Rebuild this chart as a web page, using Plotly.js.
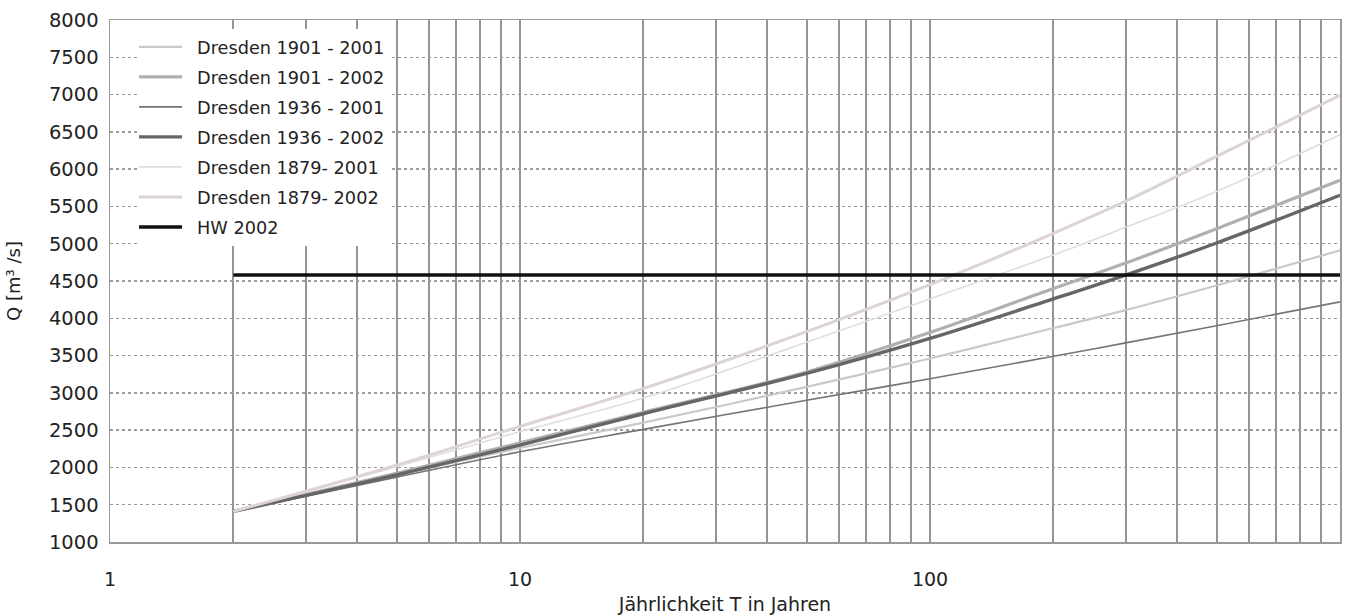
<!DOCTYPE html>
<html><head><meta charset="utf-8">
<script src="https://cdn.plot.ly/plotly-3.0.1.min.js"></script>
<style>html,body{margin:0;padding:0;background:#fff}</style>
</head><body><div id="chart" style="width:1364px;height:615px"></div>
<script>
// Return periods (years)
const returnPeriods = [2, 5, 10, 20, 50, 100, 200, 300, 500, 1000];
// Discharge Q [m3/s] per series
const q1901_2001 = [1410, 1900, 2260, 2600, 3080, 3460, 3870, 4110, 4440, 4910];
const q1901_2002 = [1410, 1920, 2330, 2740, 3280, 3810, 4400, 4740, 5200, 5850];
const q1936_2001 = [1410, 1870, 2210, 2510, 2900, 3190, 3490, 3670, 3900, 4220];
const q1936_2002 = [1410, 1900, 2300, 2720, 3260, 3730, 4260, 4580, 5010, 5650];
const q1879_2001 = [1410, 2010, 2480, 2930, 3680, 4260, 4850, 5220, 5700, 6460];
const q1879_2002 = [1410, 2030, 2550, 3060, 3820, 4450, 5140, 5570, 6170, 6990];
// Flood 2002 peak discharge
const hwPeriods = [2, 1000];
const hw2002 = [4580, 4580];
const seriesNames = ['Dresden 1901 - 2001', 'Dresden 1901 - 2002', 'Dresden 1936 - 2001',
  'Dresden 1936 - 2002', 'Dresden 1879- 2001', 'Dresden 1879- 2002', 'HW 2002'];
// Axis ticks
const xTickVals = [1,2,3,4,5,6,7,8,9,10,20,30,40,50,60,70,80,90,100,200,300,400,500,600,700,800,900,1000];
const xTickText = ['1','','','','','','','','','10','','','','','','','','','100','','','','','','','','','1000'];
const yTickVals = [1000,1500,2000,2500,3000,3500,4000,4500,5000,5500,6000,6500,7000,7500,8000];

const styles = [
  {color:'#c9c9c9', width:2.2},
  {color:'#b0b0b0', width:3.2},
  {color:'#747474', width:1.6},
  {color:'#666666', width:3.4},
  {color:'#dedede', width:1.6},
  {color:'#ddd3d3', width:3},
  {color:'#111111', width:3.6}
];
const seriesData = [q1901_2001, q1901_2002, q1936_2001, q1936_2002, q1879_2001, q1879_2002];

const traces = seriesData.map((ys, i) => ({
  type:'scatter', mode:'lines', x: returnPeriods, y: ys, name: seriesNames[i],
  legendgroup: 'g'+i,
  line:{color:styles[i].color, width:styles[i].width, shape:'spline', smoothing:1}
}));
traces.push({type:'scatter', mode:'lines', x: hwPeriods, y: hw2002, name: seriesNames[6],
  legendgroup:'g6', line:{color:styles[6].color, width:styles[6].width}});

const font = 'DejaVu Sans, sans-serif';
const layout = {
  width:1364, height:615,
  margin:{l:110, r:24, t:20, b:73},
  paper_bgcolor:'#fff', plot_bgcolor:'#fff',
  font:{family:font, color:'#222', size:18},
  showlegend:true,
  legend:{x:0.022, y:0.983, xanchor:'left', yanchor:'top', bgcolor:'#ffffff',
    borderwidth:0, font:{family:font, size:17.7, color:'#222'}, tracegroupgap:4,
    traceorder:'grouped', itemwidth:50},
  xaxis:{type:'log', range:[0,3], tickmode:'array', tickvals:xTickVals, ticktext:xTickText,
    showgrid:true, gridcolor:'#959595', gridwidth:2, zeroline:false,
    showline:true, mirror:true, linecolor:'#9a9a9a', linewidth:1.5,
    ticks:'', ticklabelstandoff:20, tickfont:{size:19, color:'#222'},
    title:{text:'Jährlichkeit T in Jahren', font:{size:19, color:'#222'}, standoff:12}},
  yaxis:{range:[1000,8000], tickmode:'array', tickvals:yTickVals,
    showgrid:true, gridcolor:'#9a9a9a', gridwidth:1.5, griddash:'3px,3px', zeroline:false,
    showline:true, mirror:true, linecolor:'#9a9a9a', linewidth:1.5,
    ticks:'', ticklabelstandoff:6, tickfont:{size:19.5, color:'#222'},
    title:{text:'Q [m³ /s]', font:{size:18, color:'#222'}, standoff:23}}
};
Plotly.newPlot('chart', traces, layout, {staticPlot:true, displayModeBar:false}).then(() => {
  // lengthen the legend line samples like the original
  document.querySelectorAll('.legend .legendlines path').forEach(p => p.setAttribute('d', 'M2,0h43'));
});
</script></body></html>
